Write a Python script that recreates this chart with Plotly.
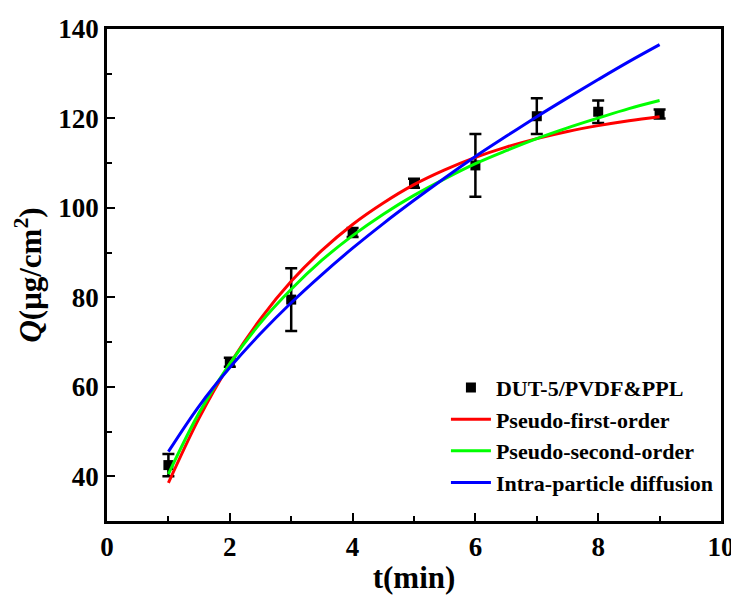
import plotly.graph_objects as go

# Experimental data
t_data = [1, 2, 3, 4, 5, 6, 7, 8, 9]
q_data = [42.5, 65.5, 79.5, 94.5, 105.5, 109.5, 120.5, 121.5, 121.0]
q_err = [2.5, 1.0, 7.0, 1.0, 1.0, 7.0, 4.0, 2.5, 1.0]

# Fitted curves
t_fit = [1, 1.5, 2, 2.5, 3, 3.5, 4, 4.5, 5, 5.5, 6, 6.5, 7, 7.5, 8, 8.5, 9]
q_pfo = [38.5, 53.0, 65.1, 75.2, 83.6, 90.5, 96.3, 101.1, 105.2, 108.5, 111.3, 113.6, 115.5, 117.1, 118.4, 119.5, 120.4]
q_pso = [40.5, 54.2, 65.2, 74.3, 81.8, 88.3, 93.8, 98.6, 102.8, 106.5, 109.9, 112.8, 115.5, 117.9, 120.1, 122.2, 124.0]
q_ipd = [45.5, 55.7, 64.3, 71.9, 78.8, 85.1, 91.0, 96.5, 101.7, 106.7, 111.5, 116.0, 120.4, 124.6, 128.7, 132.7, 136.5]

x_ticks = [0, 2, 4, 6, 8, 10]
y_ticks = [40, 60, 80, 100, 120, 140]

FONT = "Liberation Serif"

fig = go.Figure()
fig.add_trace(go.Scatter(
    x=t_data, y=q_data, mode="markers", name="<b>DUT-5/PVDF&PPL</b>",
    marker=dict(symbol="square", size=10, color="black"),
    error_y=dict(type="data", array=q_err, visible=True, color="black", thickness=2.5, width=6),
))
fig.add_trace(go.Scatter(x=t_fit, y=q_pfo, mode="lines", name="<b>Pseudo-first-order</b>",
                         line=dict(color="#ff0000", width=3, shape="spline")))
fig.add_trace(go.Scatter(x=t_fit, y=q_pso, mode="lines", name="<b>Pseudo-second-order</b>",
                         line=dict(color="#00ff00", width=3, shape="spline")))
fig.add_trace(go.Scatter(x=t_fit, y=q_ipd, mode="lines", name="<b>Intra-particle diffusion</b>",
                         line=dict(color="#0000ff", width=3, shape="spline")))

axis_common = dict(
    showline=True, linecolor="black", linewidth=2.5, mirror=True,
    ticks="inside", ticklen=8, tickwidth=2, tickcolor="black",
    showgrid=False, zeroline=False, automargin=False,
    tickfont=dict(family=FONT, size=27, color="black"),
)

fig.update_xaxes(
    range=[0, 10], tickvals=x_ticks, ticktext=[f"<b>{v}</b>" for v in x_ticks],
    minor=dict(ticks="inside", ticklen=5, tickwidth=2, tickcolor="black", dtick=1),
    title=dict(text="<b>t(min)</b>", font=dict(family=FONT, size=31, color="black"), standoff=6),
    **axis_common,
)
fig.update_yaxes(
    range=[30, 140], tickvals=y_ticks, ticktext=[f"<b>{v}</b>" for v in y_ticks],
    minor=dict(ticks="inside", ticklen=5, tickwidth=2, tickcolor="black", dtick=10),
    title=dict(text="<b><i>Q</i>(μg/cm<sup>2</sup>)</b>", font=dict(family=FONT, size=31, color="black"), standoff=8),
    **axis_common,
)

fig.update_layout(
    width=739, height=599,
    margin=dict(l=99, r=26, t=21, b=86),
    plot_bgcolor="white", paper_bgcolor="white",
    showlegend=True,
    legend=dict(
        x=0.995, y=0.035, xanchor="right", yanchor="bottom",
        bgcolor="rgba(0,0,0,0)", borderwidth=0,
        font=dict(family=FONT, size=22, color="black"),
        tracegroupgap=0, itemwidth=40,
    ),
)

fig.write_html("out.html")
